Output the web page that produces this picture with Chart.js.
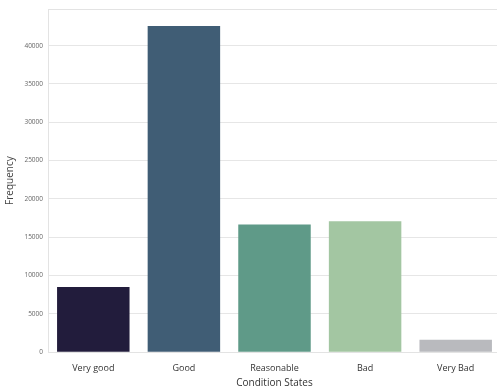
<!DOCTYPE html>
<html><head><meta charset="utf-8">
<script src="https://cdn.jsdelivr.net/npm/chart.js@4/dist/chart.umd.min.js"></script>
<style>html,body{margin:0;padding:0;overflow:hidden;background:#fff}#wrap{width:503px;height:391px}</style>
</head><body>
<div id="wrap"><canvas id="c" width="503" height="391"></canvas></div>
<script>
const categories = ["Very good", "Good", "Reasonable", "Bad", "Very Bad"];
const frequency = [8500, 42580, 16670, 17100, 1630];
const barColors = ["#221c3c", "#405d75", "#5f9a88", "#a3c6a2", "#b9babe"];
const yTicks = [0, 5000, 10000, 15000, 20000, 25000, 30000, 35000, 40000];
const yMax = 44800;

const border = {
  id: 'border',
  afterDatasetsDraw(chart) {
    const a = chart.chartArea, ctx = chart.ctx;
    ctx.save();
    ctx.strokeStyle = '#e3e3e3';
    ctx.lineWidth = 1;
    ctx.strokeRect(Math.round(a.left) + 0.5, Math.round(a.top) + 0.5, Math.round(a.right - a.left), Math.round(a.bottom - a.top));
    ctx.restore();
  }
};

new Chart(document.getElementById('c'), {
  type: 'bar',
  data: { labels: categories, datasets: [{ data: frequency, backgroundColor: barColors, categoryPercentage: 1, barPercentage: 0.8 }] },
  options: {
    responsive: false, animation: false,
    layout: { padding: { top: 8, right: 2, left: 4, bottom: 2 } },
    plugins: { legend: { display: false }, tooltip: { enabled: false } },
    scales: {
      x: {
        grid: { display: false },
        border: { display: false },
        ticks: { color: '#333', font: { family: 'Open Sans', size: 9 }, padding: 3 },
        title: { display: true, text: 'Condition States', color: '#333', font: { family: 'Open Sans', size: 10 }, padding: { top: 0, bottom: 0 } }
      },
      y: {
        min: 0, max: yMax,
        afterBuildTicks(s) { s.ticks = yTicks.map(v => ({ value: v })); },
        afterFit(s) { s.width = 44; },
        grid: { color: '#e6e6e6', drawTicks: false },
        border: { display: false },
        ticks: { color: '#666', font: { family: 'Open Sans', size: 6.5 }, padding: 5, callback: v => String(v) },
        title: { display: true, text: 'Frequency', color: '#444', font: { family: 'Open Sans', size: 10 }, padding: { top: 0, bottom: 2 } }
      }
    }
  },
  plugins: [border]
});
</script>
</body></html>
